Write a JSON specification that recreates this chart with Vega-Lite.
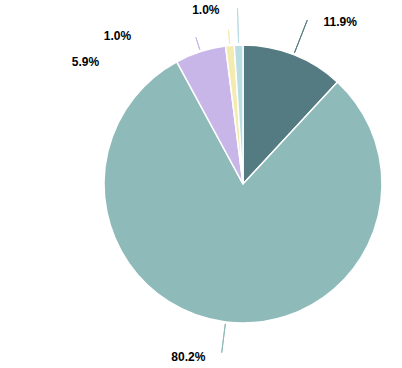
{
  "$schema": "https://vega.github.io/schema/vega-lite/v6.json",
  "autosize": {"type": "none"},
  "width": 318,
  "height": 368,
  "padding": {"left": 84, "top": 0, "right": 0, "bottom": 0},
  "background": "white",
  "config": {"view": {"stroke": null}},
  "data": {"values": [
    {"category": "A", "value": 0.119},
    {"category": "B", "value": 0.802},
    {"category": "C", "value": 0.059},
    {"category": "D", "value": 0.010},
    {"category": "E", "value": 0.010}
  ]},
  "transform": [
    {"stack": "value", "sortby": [{"field": "category", "order": "ascending"}], "groupby": [], "as": ["v0", "v1"]}
  ],
  "encoding": {
    "color": {"field": "category", "type": "nominal", "legend": null,
      "scale": {"domain": ["A", "B", "C", "D", "E"], "range": ["#547b81", "#8fbaba", "#c9b6e8", "#f3ebb0", "#b9dde3"]}}
  },
  "layer": [
    {
      "mark": {"type": "arc", "radius": 139, "stroke": "white", "strokeWidth": 1.5},
      "encoding": {
        "theta": {"field": "v0", "type": "quantitative", "scale": {"domain": [0, 1]}},
        "theta2": {"field": "v1"}
      }
    },
    {
      "transform": [
        {"fold": ["v0", "v1"], "as": ["k", "pos"]},
        {"aggregate": [{"op": "mean", "field": "pos", "as": "mid"}, {"op": "max", "field": "value", "as": "value"}], "groupby": ["category"]}
      ],
      "layer": [
        {"transform": [{"filter": "datum.category === 'A'"}], "mark": {"type": "arc", "filled": false, "radius": 141, "radius2": 176, "strokeWidth": 1}},
        {"transform": [{"filter": "datum.category === 'B'"}], "mark": {"type": "arc", "filled": false, "radius": 141, "radius2": 170, "strokeWidth": 1}},
        {"transform": [{"filter": "datum.category === 'C'"}], "mark": {"type": "arc", "filled": false, "radius": 141, "radius2": 154, "strokeWidth": 1}},
        {"transform": [{"filter": "datum.category === 'D'"}], "mark": {"type": "arc", "filled": false, "radius": 141, "radius2": 155, "strokeWidth": 1}},
        {"transform": [{"filter": "datum.category === 'E'"}], "mark": {"type": "arc", "filled": false, "radius": 141, "radius2": 176, "strokeWidth": 1}},
        {"transform": [{"filter": "datum.category === 'A'"}], "mark": {"type": "text", "radius": 165, "dx": 37, "dy": -8, "font": "Liberation Sans", "fontSize": 12, "fontWeight": "bold", "fill": "black", "align": "center", "baseline": "middle"},
          "encoding": {"text": {"field": "value", "type": "quantitative", "format": ".1%"}}},
        {"transform": [{"filter": "datum.category === 'B'"}], "mark": {"type": "text", "radius": 165, "dx": -34, "dy": 9, "font": "Liberation Sans", "fontSize": 12, "fontWeight": "bold", "fill": "black", "align": "center", "baseline": "middle"},
          "encoding": {"text": {"field": "value", "type": "quantitative", "format": ".1%"}}},
        {"transform": [{"filter": "datum.category === 'C'"}], "mark": {"type": "text", "radius": 165, "dx": -107, "dy": 35, "font": "Liberation Sans", "fontSize": 12, "fontWeight": "bold", "fill": "black", "align": "center", "baseline": "middle"},
          "encoding": {"text": {"field": "value", "type": "quantitative", "format": ".1%"}}},
        {"transform": [{"filter": "datum.category === 'D'"}], "mark": {"type": "text", "radius": 165, "dx": -110, "dy": 16, "font": "Liberation Sans", "fontSize": 12, "fontWeight": "bold", "fill": "black", "align": "center", "baseline": "middle"},
          "encoding": {"text": {"field": "value", "type": "quantitative", "format": ".1%"}}},
        {"transform": [{"filter": "datum.category === 'E'"}], "mark": {"type": "text", "radius": 165, "dx": -32, "dy": -9, "font": "Liberation Sans", "fontSize": 12, "fontWeight": "bold", "fill": "black", "align": "center", "baseline": "middle"},
          "encoding": {"text": {"field": "value", "type": "quantitative", "format": ".1%"}}}
      ],
      "encoding": {
        "theta": {"field": "mid", "type": "quantitative", "stack": null},
        "theta2": {"field": "mid"}
      }
    }
  ]
}
